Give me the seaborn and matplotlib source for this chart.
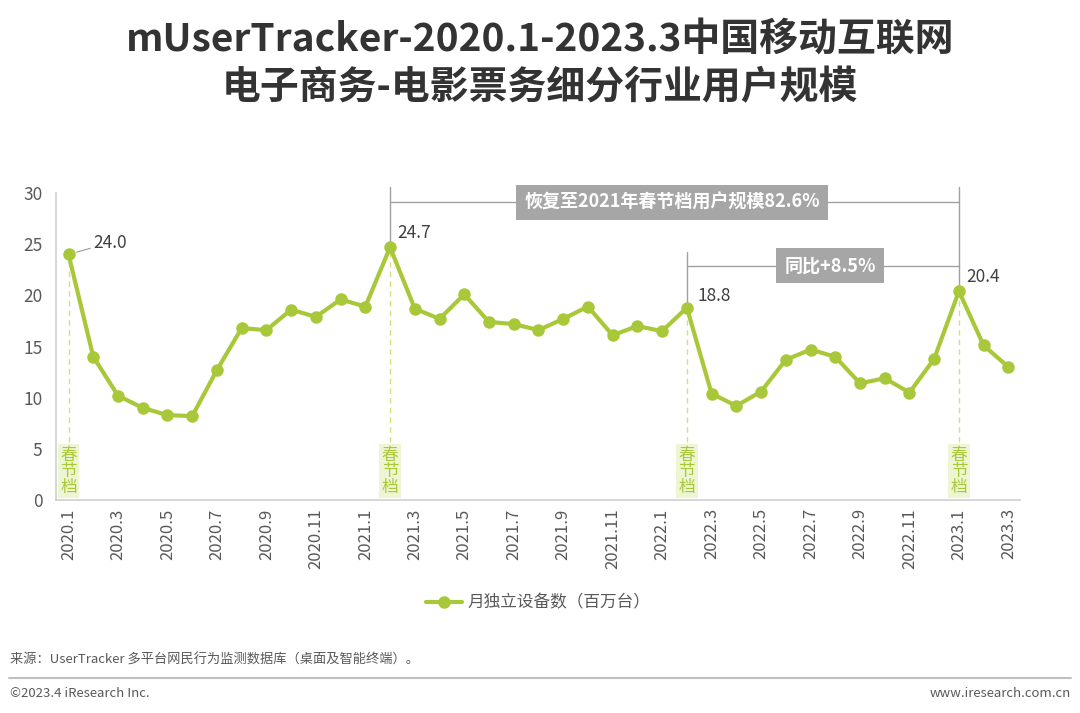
import matplotlib
matplotlib.use("Agg")
import matplotlib.pyplot as plt
import seaborn as sns
import pandas as pd
import numpy as np

# === DATA ===
MONTHS = [f"{y}.{m}" for y in (2020, 2021, 2022) for m in range(1, 13)] + ["2023.1", "2023.2", "2023.3"]
USERS = [24.0, 14.0, 10.2, 9.0, 8.3, 8.2, 12.7, 16.8, 16.6, 18.6, 17.9, 19.6,
         18.9, 24.7, 18.7, 17.7, 20.1, 17.4, 17.2, 16.6, 17.7, 18.9, 16.1, 17.0,
         16.5, 18.8, 10.4, 9.2, 10.6, 13.7, 14.7, 14.0, 11.4, 11.9, 10.5, 13.8,
         20.4, 15.1, 13.0]
SPRING_MONTHS = ["2020.1", "2021.2", "2022.2", "2023.1"]
SERIES_NAME = "月独立设备数（百万台）"
TITLE = "mUserTracker-2020.1-2023.3中国移动互联网\n电子商务-电影票务细分行业用户规模"
NOTE_RECOVER = "恢复至2021年春节档用户规模82.6%"
NOTE_YOY = "同比+8.5%"

GREEN = "#a8c83a"
LIGHT_GREEN = "#cfe27f"
GRAY_TXT = "#595959"
BOX_GRAY = "#a6a6a6"

sns.set_theme(style="white")
plt.rcParams["font.family"] = ["Noto Sans CJK SC", "DejaVu Sans"]

df = pd.DataFrame({"month": MONTHS, "users": USERS})
df["x"] = np.arange(len(df))
pos = dict(zip(df["month"], df["x"]))
val = dict(zip(df["month"], df["users"]))

fig = plt.figure(figsize=(10.8, 7.13), dpi=100)
ax = fig.add_axes([0.052, 0.2987, 0.892, 0.4306])

sns.lineplot(data=df, x="x", y="users", ax=ax, color=GREEN, linewidth=3,
             marker="o", markersize=9, markeredgewidth=0, label=SERIES_NAME, zorder=4)

ax.set_xlim(-0.5, len(df) - 0.55)
ax.set_ylim(0, 30)
ax.set_yticks(range(0, 31, 5))
ax.set_xticks(df["x"][::2])
ax.set_xticklabels(df["month"][::2], rotation=90, fontsize=12, color=GRAY_TXT)
ax.tick_params(axis="y", labelsize=12.5, colors=GRAY_TXT, length=0, pad=10)
ax.tick_params(axis="x", length=0, pad=6)
ax.set_xlabel("")
ax.set_ylabel("")
for s in ["top", "right"]:
    ax.spines[s].set_visible(False)
for s in ["left", "bottom"]:
    ax.spines[s].set_color("#d0d0d0")
    ax.spines[s].set_linewidth(1.2)

# spring festival markers
for m in SPRING_MONTHS:
    x = pos[m]
    ax.plot([x, x], [5.7, val[m]], ls=(0, (4, 3)), color=LIGHT_GREEN, lw=1, zorder=2)
    ax.text(x, 2.8, "春\n节\n档", ha="center", va="center", fontsize=12, color=GREEN,
            linespacing=0.92, zorder=3,
            bbox=dict(boxstyle="square,pad=0.15", fc="#eef5d2", ec="none"))

# value labels
ax.annotate("24.0", (pos["2020.1"], val["2020.1"]), xytext=(18, 2), textcoords="offset points",
            fontsize=12.5, color="#404040", va="bottom",
            arrowprops=dict(arrowstyle="-", color="#999999", lw=0.8, shrinkA=0, shrinkB=6))
ax.annotate("24.7", (pos["2021.2"], val["2021.2"]), xytext=(5, 4), textcoords="offset points",
            fontsize=12.5, color="#404040", va="bottom")
ax.annotate("18.8", (pos["2022.2"], val["2022.2"]), xytext=(8, 2), textcoords="offset points",
            fontsize=12.5, color="#404040", va="bottom")
ax.annotate("20.4", (pos["2023.1"], val["2023.1"]), xytext=(5, 4), textcoords="offset points",
            fontsize=12.5, color="#404040", va="bottom")

# bracket: recovery vs 2021
x0, x1 = pos["2021.2"], pos["2023.1"]
ax.plot([x0, x0], [30.6, val["2021.2"]], color="#a0a0a0", lw=1, clip_on=False, zorder=3)
ax.plot([x1, x1], [30.6, val["2023.1"]], color="#a0a0a0", lw=1, clip_on=False, zorder=3)
ax.plot([x0, x1], [29.1, 29.1], color="#a0a0a0", lw=1, clip_on=False, zorder=3)
ax.text((x0 + x1) / 2 - 0.1, 29.1, NOTE_RECOVER, ha="center", va="center", fontsize=13,
        fontweight="bold", color="white", zorder=5,
        bbox=dict(boxstyle="square,pad=0.45", fc=BOX_GRAY, ec="none"))

# bracket: year over year
x2 = pos["2022.2"]
ax.plot([x2, x2], [24.2, val["2022.2"]], color="#a0a0a0", lw=1, zorder=3)
ax.plot([x2, x1], [22.9, 22.9], color="#a0a0a0", lw=1, zorder=3)
ax.text((x2 + x1) / 2 + 0.3, 22.9, NOTE_YOY, ha="center", va="center", fontsize=13,
        fontweight="bold", color="white", zorder=5,
        bbox=dict(boxstyle="square,pad=0.45", fc=BOX_GRAY, ec="none"))

leg = ax.legend(loc="center", bbox_to_anchor=(0.5, -0.335), frameon=False, fontsize=12,
                handlelength=2.2, handletextpad=0.3)
for t in leg.get_texts():
    t.set_color(GRAY_TXT)

fig.text(0.5, 0.911, TITLE, ha="center", va="center", fontsize=28, fontweight="bold",
         color="#333333", linespacing=1.3)

fig.text(0.009, 0.074, "来源：UserTracker 多平台网民行为监测数据库（桌面及智能终端）。",
         fontsize=9.5, color=GRAY_TXT, va="center")
fig.add_artist(plt.Line2D([0.008, 0.992], [0.049, 0.049], color="#bfbfbf", lw=1.5))
fig.text(0.009, 0.028, "©2023.4 iResearch Inc.", fontsize=9.5, color=GRAY_TXT, va="center")
fig.text(0.992, 0.028, "www.iresearch.com.cn", fontsize=9.5, color=GRAY_TXT, va="center", ha="right")

fig.savefig("out.png", dpi=100)
